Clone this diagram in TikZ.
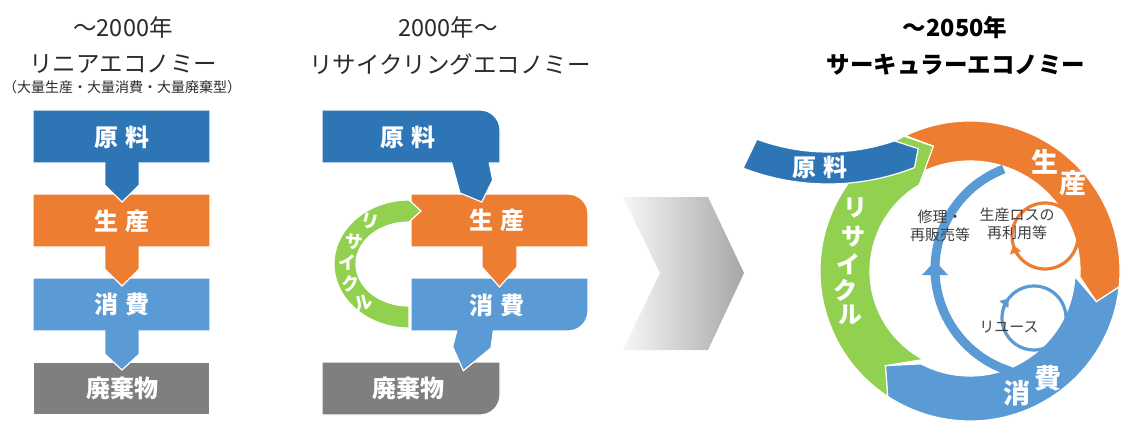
\documentclass[tikz,border=0pt]{standalone}
\usepackage{fontspec}
\setmainfont{Noto Sans CJK JP}
\usetikzlibrary{arrows.meta}
\definecolor{cDark}{HTML}{2E75B6}
\definecolor{cOrange}{HTML}{ED7D31}
\definecolor{cLight}{HTML}{5B9BD5}
\definecolor{cGray}{HTML}{7F7F7F}
\definecolor{cGreen}{HTML}{92D050}
\definecolor{cTitle}{HTML}{2B2B2B}
\definecolor{cText}{HTML}{404040}
\definecolor{cChevL}{HTML}{F7F7F7}
\definecolor{cChevR}{HTML}{A6A6A6}
\begin{document}
\begin{tikzpicture}[x=1pt,y=1pt,
  seg/.style={draw=white, line width=1.2pt, line join=miter},
  lbl/.style={text=white, font=\bfseries\fontsize{24}{24}\selectfont, inner sep=0pt},
  glbl/.style={text=white, font=\bfseries\fontsize{18}{18}\selectfont, inner sep=0pt},
  rlbl/.style={text=white, font=\bfseries\fontsize{27}{27}\selectfont, inner sep=0pt},
  vlbl/.style={text=white, font=\bfseries\fontsize{24}{24}\selectfont, inner sep=0pt},
  ttl/.style={text=cTitle, font=\fontsize{23.5}{25}\selectfont, inner sep=0pt},
  ttlb/.style={text=black, font=\bfseries\fontsize{23.5}{25}\selectfont, inner sep=0pt},
  sub/.style={text=cTitle, font=\fontsize{14}{15}\selectfont, inner sep=0pt},
  itxt/.style={text=cText, font=\fontsize{15}{17.5}\selectfont, inner sep=0pt, align=center},
  loop/.style={line width=3.2pt},
  tipA/.style={-{Triangle[length=8pt,width=11pt]}}
]
\useasboundingbox (0,0) rectangle (1126,421);
\fill[white] (0,0) rectangle (1126,421);

% ---------- titles ----------
\node[ttl] (t1a) at (123,393) {～2000年};
\node[ttl] (t1b) at (123,356.5) {リニアエコノミー};
\node[sub] (t1c) at (122,333.5) {（大量生産・大量消費・大量廃棄型）};
\node[ttl] (t2a) at (448,393) {2000年～};
\node[ttl] (t2b) at (450,356.5) {リサイクリングエコノミー};
\node[ttlb] (t3a) at (955,393) {～2050年};
\node[ttlb] (t3b) at (956,356.5) {サーキュラーエコノミー};

% ---------- left: linear ----------
\fill[cGray,seg] (33,6) rectangle (210,59);
\fill[cLight,seg] (33,143) -- (210,143) -- (210,90) -- (139.3,90) -- (139.3,67) -- (122,51) -- (104.7,67) -- (104.7,90) -- (33,90) -- cycle;
\fill[cOrange,seg] (33,227) -- (210,227) -- (210,174) -- (139.3,174) -- (139.3,152) -- (122,135) -- (104.7,152) -- (104.7,174) -- (33,174) -- cycle;
\fill[cDark,seg] (33,311) -- (210,311) -- (210,258) -- (139.3,258) -- (139.3,236) -- (122,219) -- (104.7,236) -- (104.7,258) -- (33,258) -- cycle;
\node[lbl] (l1) at (122,284) {原\hspace{0.3em}料};
\node[lbl] (l2) at (122,200) {生\hspace{0.3em}産};
\node[lbl] (l3) at (122,117) {消\hspace{0.3em}費};
\node[lbl] (l4) at (122,33) {廃棄物};

% ---------- middle: recycling ----------
\fill[cGray,seg] (322,6) -- (322,59) -- (500,59) -- (500,26) arc[start angle=0,end angle=-90,radius=20pt] -- cycle;
\fill[cLight,seg] (411,143) -- (588,143) -- (588,110) arc[start angle=0,end angle=-90,radius=20pt] -- (493.3,90) -- (491,73) -- (463.3,50.3) -- (452.7,74.3) -- (456.7,90) -- (411,90) -- cycle;
\fill[cOrange,seg] (411,174) -- (411,227) -- (568,227) arc[start angle=90,end angle=0,radius=20pt] -- (588,174) -- (517,174) -- (517,154) -- (499.5,134) -- (482,154) -- (482,174) -- cycle;
\fill[cDark,seg] (322,258) -- (322,311) -- (480,311) arc[start angle=90,end angle=0,radius=20pt] -- (500,258) -- (489.3,258) -- (492.7,241) -- (481.7,219) -- (460,228) -- (451.7,258) -- cycle;
\fill[cGreen,seg] (409,221) arc[start angle=90,end angle=270,x radius=75pt,y radius=64pt] -- (409,115) arc[start angle=270,end angle=90,x radius=53pt,y radius=42pt] -- (421,210) -- cycle;
\node[lbl] (m1) at (408,284) {原\hspace{0.3em}料};
\node[lbl] (m2) at (497,201) {生\hspace{0.3em}産};
\node[lbl] (m3) at (497,116) {消\hspace{0.3em}費};
\node[lbl] (m4) at (408,33) {廃棄物};
\node[glbl,rotate=-15] (g1) at (370,199) {リ};
\node[glbl,rotate=-6] (g2) at (354,179) {サ};
\node[glbl,rotate=0] (g3) at (347,158) {イ};
\node[glbl,rotate=6] (g4) at (351,137) {ク};
\node[glbl,rotate=15] (g5) at (364,118) {ル};

% ---------- chevron ----------
\shade[left color=cChevL, right color=cChevR] (623,224) -- (708,224) -- (744,148) -- (708,71) -- (623,71) -- (660,148) -- cycle;

% ---------- right: circular ----------
\begin{scope}[shift={(970,150)}]
  \fill[cLight,seg] (-6:150pt) arc[start angle=-6,end angle=-123.3,radius=150pt] -- (-131.8:127pt) -- (-117.8:105pt) arc[start angle=-117.8,end angle=-3,radius=105pt] -- (-13.6:130pt) -- cycle;
  \fill[cOrange,seg] (115.5:150pt) arc[start angle=115.5,end angle=-6,radius=150pt] -- (-13.6:130pt) -- (-3:110pt) arc[start angle=-3,end angle=120.5,radius=110pt] -- (106.4:130pt) -- cycle;
  \fill[cGreen,seg] (236.7:150pt) arc[start angle=236.7,end angle=116,radius=150pt] -- (106.4:130pt) -- (120.5:100pt) arc[start angle=120.5,end angle=242.2,radius=100pt] -- (228.2:127pt) -- cycle;
\end{scope}
\begin{scope}[shift={(828,473)}]
  \fill[cDark,seg] (-110.4:204pt) arc[start angle=-110.4,end angle=-71,radius=204pt] -- (-65.8:220pt) -- (-68.5:236pt) arc[start angle=-68.5,end angle=-111.1,radius=236pt] -- cycle;
\end{scope}

% inner loops
\draw[cLight, line width=9pt] (1042,152) ++(111:107pt) arc[start angle=111,end angle=253,radius=107pt];
\fill[cLight] (922,146) -- (948,146) -- (935,160) -- cycle;
\draw[cOrange, loop] (1045,185) circle[radius=33pt];
\draw[cOrange, loop, tipA] (1045,185) ++(215:33pt) arc[start angle=215,end angle=196,radius=33pt];
\draw[cLight, loop] (1034,103) circle[radius=32pt];
\draw[cLight, loop, tipA] (1034,103) ++(165:32pt) arc[start angle=165,end angle=142,radius=32pt];

% circle labels
\node[lbl] (r0) at (820,254) {原\hspace{0.3em}料};
\node[rlbl] (r1) at (1045,259) {生};
\node[rlbl] (r2) at (1073,238) {産};
\node[rlbl] (r3) at (1017,28) {消};
\node[rlbl] (r4) at (1048,43) {費};
\node[vlbl] (rg1) at (855,213) {リ};
\node[vlbl] (rg2) at (853,184.5) {サ};
\node[vlbl] (rg3) at (848,157) {イ};
\node[vlbl] (rg4) at (845,131) {ク};
\node[vlbl] (rg5) at (850,106) {ル};
\node[itxt] (i1) at (940,195) {修理・\\再販売等};
\node[itxt] (i2) at (1017,197) {生産ロスの\\再利用等};
\node[itxt] (i3) at (1009,94) {リユース};
\end{tikzpicture}
\end{document}
